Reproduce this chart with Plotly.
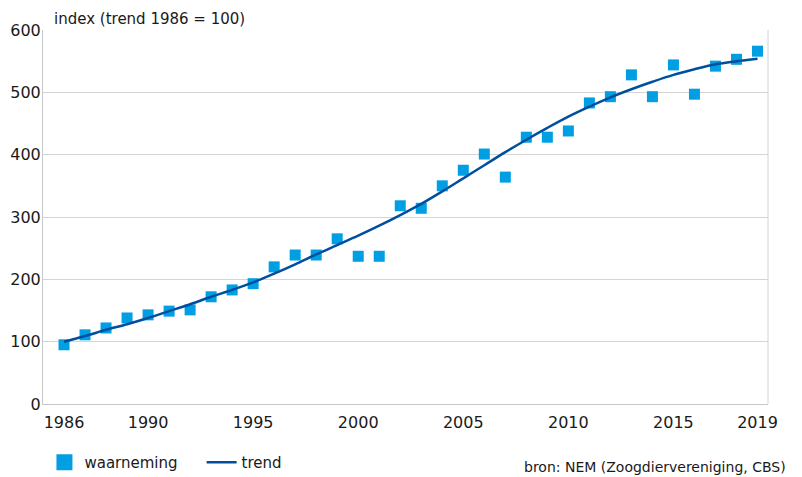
import plotly.graph_objects as go

years = list(range(1986, 2020))
waarneming = [95, 111, 122, 138, 143, 149, 151, 172, 183, 193,
              220, 239, 239, 265, 237, 237, 318, 314, 350, 375,
              401, 364, 428, 428, 438, 483, 493, 528, 493, 544,
              497, 542, 553, 566]
trend = [100, 109, 119, 128, 138, 149, 160, 172, 183, 195,
         209, 224, 240, 255, 270, 286, 303, 321, 341, 362,
         383, 404, 424, 443, 461, 477, 492, 505, 517, 528,
         537, 545, 550, 554]
x_ticks = [1986, 1990, 1995, 2000, 2005, 2010, 2015, 2019]
y_ticks = [0, 100, 200, 300, 400, 500, 600]

FONT = "DejaVu Sans"
TXT = "#1a1a1a"
NBSP = "\u00a0"

fig = go.Figure()
fig.add_trace(go.Scatter(
    x=years, y=waarneming, mode="markers", name="waarneming",
    marker=dict(symbol="square", size=11, color="#009fe3"),
    showlegend=False,
))
fig.add_trace(go.Scatter(
    x=[None], y=[None], mode="markers", name="waarneming" + NBSP * 4,
    marker=dict(symbol="square", size=20, color="#009fe3"),
))
fig.add_trace(go.Scatter(
    x=years, y=trend, mode="lines", name="trend",
    line=dict(color="#004f9f", width=2.5, shape="spline"),
))

# page body has an 8px margin, so the figure starts at (8, 8)
fig.update_layout(
    width=794, height=469,
    margin=dict(l=35, r=34, t=22, b=73, autoexpand=False),
    plot_bgcolor="white", paper_bgcolor="white",
    font=dict(family=FONT, size=14, color=TXT),
    showlegend=True,
    legend=dict(orientation="h", x=0.002, y=-0.112, xanchor="left", yanchor="top",
                font=dict(size=15, color=TXT), traceorder="normal",
                tracegroupgap=0),
    xaxis=dict(range=[1985, 2019.5], tickmode="array", tickvals=x_ticks,
               ticktext=[str(t) for t in x_ticks], showgrid=False,
               showline=True, linecolor="#c8c8c8", linewidth=1,
               ticks="", zeroline=False, automargin=False,
               ticklabelstandoff=4,
               tickfont=dict(size=16, color=TXT)),
    yaxis=dict(range=[0, 600], tickmode="array", tickvals=y_ticks,
               showgrid=True, gridcolor="#d4d4d4", gridwidth=1,
               showline=True, linecolor="#c8c8c8", linewidth=1,
               ticks="", zeroline=False, automargin=False,
               ticklabelstandoff=-2,
               tickfont=dict(size=16, color=TXT)),
    annotations=[
        dict(text="index (trend 1986 = 100)", xref="paper", yref="paper",
             x=0.012, y=1.0, xanchor="left", yanchor="bottom", yshift=0,
             showarrow=False, font=dict(size=15, color=TXT)),
        dict(text="bron: NEM (Zoogdiervereniging, CBS)", xref="paper", yref="paper",
             x=1.028, y=-0.168, xanchor="right", yanchor="middle",
             showarrow=False, font=dict(size=14, color=TXT)),
    ],
)
fig.add_shape(type="line", xref="paper", yref="paper", x0=1, x1=1, y0=0, y1=1,
              line=dict(color="#d4d4d4", width=1))

fig.write_html("out.html")
